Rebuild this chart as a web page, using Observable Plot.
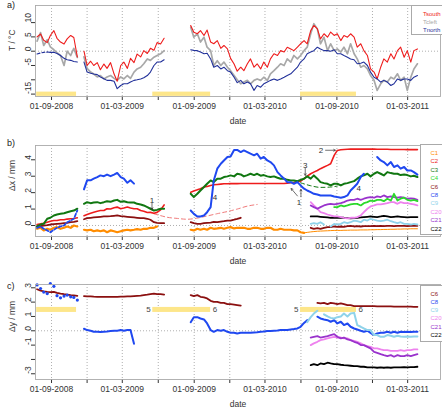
<!DOCTYPE html>
<html><head><meta charset="utf-8">
<script src="https://cdn.jsdelivr.net/npm/d3@7"></script>
<script src="https://cdn.jsdelivr.net/npm/@observablehq/plot@0.6"></script>
<style>
body{margin:0;background:#fff}
#wrap{position:relative;width:442px;height:407px;overflow:hidden;background:#fff;font-family:"Liberation Sans",Arial,sans-serif}
.pane{position:absolute;left:0}
.pane svg{display:block;overflow:visible}
.plab{position:absolute;left:7px;font-size:9px;color:#222;line-height:10px}
.leg{position:absolute;background:#fff;border:1px solid #aaa;font-size:6px;box-sizing:border-box;white-space:nowrap;width:40px}
</style></head><body>
<div id="wrap">
 <div class="pane" id="pa" style="top:0"></div>
 <div class="pane" id="pb" style="top:128px"></div>
 <div class="pane" id="pc" style="top:268px"></div>
 <div class="plab" style="top:0px">a)</div>
 <div class="plab" style="top:138px">b)</div>
 <div class="plab" style="top:281px">c)</div>
 <div class="leg" id="la" style="left:411px;top:5px;height:30px;padding:3.5px 0 0 11px;line-height:8px"></div>
 <div class="leg" id="lb" style="left:420px;top:144px;height:91px;padding:4px 0 0 9.5px;line-height:8.4px"></div>
 <div class="leg" id="lc" style="left:420px;top:285px;height:57px;padding:3.5px 0 0 9.5px;line-height:8.25px"></div>
</div>
<script>
const N = null;
// sample dates (shared by all series)
const dates = [
"2008-07-26","2008-08-04","2008-08-12","2008-08-21","2008-08-29","2008-09-07","2008-09-15","2008-09-24","2008-10-03","2008-10-11",
"2008-10-20","2008-10-28","2008-11-06","2008-11-14","2008-11-23","2008-12-01","2008-12-10","2008-12-18","2008-12-27","2009-01-04",
"2009-01-13","2009-01-21","2009-01-30","2009-02-08","2009-02-16","2009-02-25","2009-03-05","2009-03-14","2009-03-22","2009-03-31",
"2009-04-08","2009-04-17","2009-04-25","2009-05-04","2009-05-12","2009-05-21","2009-05-29","2009-06-07","2009-06-16","2009-06-24",
"2009-07-03","2009-07-11","2009-07-20","2009-07-28","2009-08-06","2009-08-14","2009-08-23","2009-08-31","2009-09-09","2009-09-17",
"2009-09-26","2009-10-04","2009-10-13","2009-10-21","2009-10-30","2009-11-08","2009-11-16","2009-11-25","2009-12-03","2009-12-12",
"2009-12-20","2009-12-29","2010-01-06","2010-01-15","2010-01-23","2010-02-01","2010-02-09","2010-02-18","2010-02-26","2010-03-07",
"2010-03-15","2010-03-24","2010-04-02","2010-04-10","2010-04-19","2010-04-27","2010-05-06","2010-05-14","2010-05-23","2010-05-31",
"2010-06-09","2010-06-17","2010-06-26","2010-07-04","2010-07-13","2010-07-21","2010-07-30","2010-08-08","2010-08-16","2010-08-25",
"2010-09-02","2010-09-11","2010-09-19","2010-09-28","2010-10-06","2010-10-15","2010-10-23","2010-11-01","2010-11-09","2010-11-18",
"2010-11-26","2010-12-05","2010-12-13","2010-12-22","2010-12-30","2011-01-08","2011-01-17","2011-01-25","2011-02-03","2011-02-11",
"2011-02-20","2011-02-28","2011-03-09","2011-03-17","2011-03-26"];
const gridDates = ["2008-09-01","2008-12-01","2009-03-01","2009-06-01","2009-09-01","2009-12-01","2010-03-01","2010-06-01","2010-09-01","2010-12-01","2011-03-01"];
const xDomain = ["2008-07-22","2011-05-24"];

// ---- panel a: temperatures (°C)
const tSouth = [
5.0,6.0,3.8,3.0,5.5,7.2,4.5,3.2,2.5,4.3,
5.5,4.8,-2.0,N,0.0,-5.0,-3.5,-5.0,-4.0,-6.5,
-4.5,-6.0,-4.0,-8.0,-10.5,-5.0,-3.8,-6.0,-2.5,-4.0,
-1.0,-2.0,0.2,-0.8,1.0,0.3,3.0,2.5,4.5,N,
N,N,N,N,N,N,9.0,6.6,6.1,7.2,
5.5,7.4,3.2,2.6,3.7,1.0,2.0,0.8,-2.5,-4.5,
-7.0,-5.6,-6.8,-4.4,-2.7,-5.6,-4.4,-6.2,-3.8,-5.6,
-2.7,-0.9,-1.5,0.2,-0.3,1.4,0.8,0.2,1.4,2.6,
3.7,2.6,7.2,9.0,7.8,4.3,6.1,4.9,6.7,5.5,
6.1,3.7,5.5,4.9,6.1,4.9,1.4,2.6,0.2,-1.5,
-6.2,-7.3,-9.7,-5.6,-2.7,-3.8,-0.9,-2.7,0.2,1.4,
-2.1,0.2,-3.8,0.2,0.8];
const tCleft = [
3.5,6.5,2.0,4.0,1.5,0.5,-0.5,-1.5,-5.0,0.0,
-1.5,1.0,-2.2,N,-2.0,-6.0,-7.3,-8.0,-9.0,-8.5,
-9.7,-9.0,-8.5,-9.5,-10.2,-9.0,-9.7,-8.5,-9.5,-7.3,
-6.2,-5.6,-4.4,-2.7,-3.2,-2.1,-1.5,-0.9,0.2,N,
N,N,N,N,N,N,8.4,4.9,6.1,3.2,
4.9,1.4,0.2,-5.0,-3.3,-5.0,-3.8,-5.6,-6.8,-8.5,
-10.0,-11.4,-10.8,-10.2,-11.4,-10.2,-9.7,-10.2,-9.1,-10.2,
-7.9,-6.8,-5.6,-4.4,-5.0,-2.7,-3.8,-1.5,-2.7,-1.5,
0.2,1.4,6.1,9.6,7.8,2.6,4.9,0.2,2.6,0.2,
0.8,-0.3,1.4,-0.9,2.6,-0.9,-2.7,-5.6,-5.0,-6.2,
-8.5,-10.2,-13.7,-11.4,-10.2,-10.8,-9.1,-9.7,-7.9,-10.2,
-9.1,-13.7,-9.1,-6.2,-4.4];
const tNorth = [
N,N,N,-0.3,-0.4,-0.4,-0.8,-1.5,-2.5,-3.0,
-3.2,-3.6,-3.8,N,-3.8,-7.3,-7.7,-8.0,-8.2,-9.0,
-9.6,-10.2,-10.2,-10.5,-13.1,-12.0,-11.4,-11.4,-10.8,-10.2,
-10.0,-9.7,-9.3,-8.5,-7.3,-5.0,-3.8,-3.8,-3.0,N,
N,N,N,N,N,N,0.5,0.3,0.2,-0.3,
-0.9,-0.7,-2.7,-5.6,-5.0,-6.2,-5.6,-6.8,-7.3,-9.1,
-11.0,-10.2,-11.4,-10.8,-11.4,-13.7,-12.0,-12.6,-11.4,-10.8,
-10.2,-9.7,-10.2,-9.7,-9.1,-8.5,-7.9,-6.8,-5.6,-3.8,
-2.7,-0.9,-0.3,0.2,1.4,0.8,0.2,0.2,0.0,0.5,
-0.9,-0.9,-1.5,-2.1,-2.7,-3.0,-4.4,-4.2,-3.8,-5.0,
-7.3,-9.1,-9.7,-10.8,-10.2,-10.8,-12.0,-11.4,-9.7,-10.2,
-9.7,-9.7,-10.2,-9.1,-8.5];
const tNorthEarly = [-1.0,-0.6,-0.4,-0.3];
const barStart = ["2008-07-25","2009-05-18","2010-05-31"];
const barEnd = ["2008-11-04","2009-10-13","2010-10-21"];
const barYa = [-14.3, -15.8];
const barYc = [1.28, 1.63];

// ---- panel b: dx (mm)
const c1 = [
-0.2,-0.14,-0.3,-0.2,-0.26,-0.14,-0.1,-0.2,-0.14,-0.06,
-0.14,0.0,-0.06,N,-0.26,-0.3,-0.26,-0.35,-0.3,-0.35,
-0.3,-0.41,-0.3,-0.35,-0.41,-0.35,-0.3,-0.26,-0.3,-0.26,
-0.22,-0.26,-0.2,-0.2,-0.14,-0.14,-0.06,N,N,N,
N,N,N,N,N,N,-0.26,-0.3,-0.2,-0.26,
-0.2,-0.26,-0.14,-0.2,-0.18,-0.14,-0.2,-0.14,-0.1,-0.18,
-0.14,-0.14,-0.14,-0.2,-0.2,-0.14,-0.14,-0.2,-0.2,-0.14,
-0.14,-0.26,-0.26,-0.2,-0.26,-0.26,-0.26,-0.3,-0.3,-0.41,
-0.45];
const c1Late = [ // from sample 80
-0.45,-0.42,-0.39,-0.37,-0.35,-0.34,-0.33,-0.32,-0.31,-0.3,
-0.3,-0.3,-0.29,-0.29,-0.28,-0.28,-0.28,-0.27,-0.27,-0.27,
-0.26,-0.26,-0.25,-0.25,-0.24,-0.24,-0.23,-0.23,-0.22,-0.22,
-0.21,-0.21,-0.2,-0.2,-0.2];
const c2 = [
0.06,0.1,0.14,0.2,0.26,0.3,0.3,0.35,0.35,0.39,
0.41,0.43,0.47,N,0.6,0.67,0.75,0.81,0.87,0.91,
0.91,1.02,1.0,1.08,1.12,1.02,1.06,1.12,1.06,1.02,
1.02,0.91,0.87,0.79,0.8,0.75,0.8,0.95,1.25,N,
N,N,N,N,N,N,2.03,2.1,2.17,2.24,
2.34,2.38,2.44,2.48,2.5,2.52,2.54,2.54,2.55,2.55,
2.55,2.56,2.56,2.56,2.56,2.56,2.56,2.56,2.56,2.56,
2.56,2.56,2.56,2.56,2.56,2.58,2.6,2.62,2.66,2.7,
2.85,3.0,3.15,3.25,3.35,3.46,3.56,3.66,3.76,4.27,
4.57,4.61,4.63,4.64,4.65,4.65,4.65,4.65,4.65,4.65,
4.65,4.65,4.64,4.64,4.64,4.64,4.63,4.63,4.63,4.63,
4.63,4.62,4.62,4.62,4.62];
const c2GapDates = ["2009-05-21","2009-06-07","2009-06-24","2009-07-20","2009-08-14","2009-09-09","2009-10-04","2009-10-30","2009-11-25","2009-12-20","2010-01-15","2010-02-09"];
const c2Gap = [0.71,0.6,0.5,0.43,0.38,0.45,0.58,0.72,0.85,1.0,1.18,1.28];
const c3 = [
-0.06,0.06,0.1,0.41,0.47,0.61,0.67,0.71,0.75,0.81,
0.87,0.91,1.02,N,1.32,1.42,1.36,1.4,1.42,1.36,
1.42,1.48,1.44,1.52,1.56,1.44,1.48,1.42,1.4,1.4,
1.32,1.28,1.22,1.12,1.02,0.91,0.95,1.02,1.02,N,
N,N,N,N,N,N,1.93,1.73,1.93,2.13,
2.34,2.54,2.74,2.64,2.85,2.85,2.95,2.99,3.05,2.99,
3.15,3.11,2.99,3.07,3.15,3.07,3.15,3.03,3.07,2.99,
2.95,2.99,2.91,2.85,2.85,2.78,2.74,2.74,2.7,2.78,
2.85,2.99,2.85,3.05,2.85,2.64,2.58,2.54,2.44,2.54,
2.54,2.44,2.54,2.58,2.64,2.7,2.85,2.99,3.05,3.15,
2.99,3.15,3.25,3.15,3.05,3.25,3.19,3.15,3.15,3.07,
3.11,3.07,2.99,3.03,2.95];
const c3GapDates = ["2010-05-31","2010-06-26","2010-07-21","2010-08-16","2010-09-02"];
const c3Gap = [2.6,2.42,2.32,2.34,2.4];
const c4 = [ // from sample 89
1.12,1.12,1.22,1.16,1.22,1.28,1.32,1.32,1.22,1.36,1.42,1.52,1.48,1.56,1.56,1.48,1.63,1.52,1.93,1.52,1.63,1.69,1.56,1.52,1.56,1.48];
const c6 = [
-0.06,-0.04,0,0.02,0.06,0.08,0.1,0.12,0.14,0.16,
0.2,0.22,0.26,N,0.38,0.45,0.47,0.49,0.51,0.53,
0.55,0.56,0.57,0.59,0.61,0.57,0.55,0.53,0.51,0.49,
0.47,0.45,0.45,0.41,0.35,0.2,0.16,0.14,0.14,N,
N,N,N,N,N,N,0.2,0.14,0.1,0.1,
0.14,0.16,0.18,0.22,0.2,0.24,0.26,0.3,0.3,0.35,
0.4,0.47,N,N,N,N,N,N,N,N,
N,N,N,N,N,N,N,N,N,N,
N,N,-0.14,-0.2,-0.16,-0.2,-0.14,-0.1,-0.1,-0.06,
-0.08,-0.06,-0.08,-0.04,-0.02,-0.06,-0.04,-0.06,-0.04,-0.04,
-0.04,-0.02,-0.04,-0.02,-0.04,-0.02,-0.02,-0.04,-0.02,-0.02,
-0.02,-0.04,-0.02,-0.02,-0.02];
const c8Early = [-0.14,-0.06,-0.2,-0.3,-0.41,-0.26,-0.14,-0.06,0,0.2,0.3,0.41,0.91];
const c8 = [ // from sample 14
2.2,2.75,2.75,2.85,2.95,3.05,
3.0,3.1,3.0,3.1,3.2,2.95,2.85,2.6,2.75,2.55,
N,N,N,N,N,N,N,N,N,N,
N,N,N,N,N,N,0.91,0.71,0.55,0.55,
0.61,0.81,1.12,2.74,3.46,3.76,3.96,4.17,4.2,4.6,
4.6,4.47,4.57,4.47,4.37,4.27,4.37,4.07,4.17,3.96,
3.86,3.66,3.25,3.05,2.85,2.64,2.64,2.54,2.64,2.44,
2.24,2.13,2.03,1.93,1.89,1.83,1.83,1.83,1.83,1.77,
1.73,1.69,1.73,1.83,2.13,2.34,2.54,2.95,3.15,N,
N,N,4.17,3.96,3.86,3.66,3.86,3.56,3.66,3.46,
3.56,3.35,3.35,3.25,3.1];
const c9 = [ // from sample 82
0.1,0.14,0.1,0.2,0.06,N,-0.06,0.1,0.06,0.1,0.2,0.14,0.2,0.3,0.26,0.2,0.35,0.3,0.41,0.35,0.3,0.26,0.3,0.35,0.26,0.2,0.14,0.2,0.1,0.1,0.06,0.1,0.06];
const c20 = [ // from sample 82
1.42,1.22,1.02,0.81,0.75,0.67,0.61,0.55,0.55,0.51,0.47,0.43,0.47,0.47,0.51,0.61,0.81,1.02,1.16,1.22,1.28,1.28,1.32,1.36,1.42,1.42,1.32,1.42,1.36,1.36,1.32,1.28,1.22];
const c21 = [ // from sample 82
1.22,1.12,1.02,1.12,1.22,1.28,1.32,1.28,1.32,1.36,1.42,1.52,1.56,1.56,1.63,1.56,1.63,1.69,1.73,1.69,1.77,1.73,1.83,1.73,1.77,1.73,1.69,1.73,1.69,1.63,1.65,1.63,1.56];
const c22 = [ // from sample 82
0.55,0.55,0.55,0.53,0.51,0.49,0.47,0.47,0.47,0.47,0.47,0.45,0.43,0.45,0.47,0.49,0.51,0.53,0.55,0.53,0.51,0.55,0.59,0.55,0.51,0.53,0.55,0.53,0.51,0.49,0.51,0.51,0.51];
const annText = ["1","4","2","3","1","4"];
const annDate = ["2009-05-16","2009-10-24","2010-07-22","2010-06-12","2010-05-27","2010-10-27"];
const annVal = [1.5,1.7,4.57,3.66,1.42,2.24];
const arrFromDate = ["2009-05-16","2010-08-03","2010-06-12","2010-05-23","2010-06-01"];
const arrFromVal = [1.35,4.58,3.5,1.8,1.75];
const arrToDate = ["2009-05-16","2010-08-28","2010-06-12","2010-05-07","2010-06-01"];
const arrToVal = [0.98,4.58,3.05,2.25,2.2];

// ---- panel c: dy (mm)
const d6 = [
2.9,2.8,2.75,2.72,2.7,2.72,2.65,2.6,2.56,2.53,
2.49,2.47,2.44,N,2.42,2.4,2.4,2.38,2.37,2.37,
2.37,2.37,2.37,2.37,2.37,2.38,2.38,2.4,2.4,2.42,
2.44,2.46,2.49,2.52,2.56,2.6,2.56,2.56,2.53,N,
N,N,N,N,N,N,2.49,2.42,2.49,2.37,
2.33,2.26,2.09,2.02,2.02,1.95,1.95,1.86,1.86,1.83,
1.79,1.75,N,N,N,N,N,N,N,N,
N,N,N,N,N,N,N,N,N,N,
N,N,N,N,1.95,1.91,1.95,1.86,1.95,1.91,
1.86,1.91,1.86,1.79,1.79,1.72,1.72,1.72,1.72,1.72,
1.72,1.72,1.71,1.7,1.7,1.7,1.7,1.69,1.69,1.69,
1.68,1.68,1.68,1.67,1.67];
const d8Early = [3.2,2.95,2.7,2.6,3.3,3.1,2.45,2.3,2.42,2.49,2.37,2.33,2.14];
const d8 = [ // from sample 14
0.14,0.05,0.0,-0.07,-0.07,-0.09,
-0.07,-0.05,-0.02,0.0,0.0,0.05,0.0,0.05,0.05,-0.9,
N,N,N,N,N,N,N,N,N,N,
N,N,N,N,N,N,0.6,0.95,0.95,0.86,
0.79,0.51,0.05,-0.07,0.05,0.0,0.05,-0.07,-0.14,-0.14,
-0.19,-0.14,-0.14,-0.14,-0.14,-0.12,-0.1,-0.07,-0.05,-0.02,
-0.02,0.0,0.02,0.05,0.05,0.05,0.09,0.12,0.16,0.28,
0.55,0.74,N,N,0.98,0.86,0.79,0.74,0.63,0.74,
0.51,0.63,0.4,0.51,0.28,0.16,0.09,0.0,-0.07,0.0,
-0.14,-0.3,-0.19,-0.14,-0.14,-0.07,-0.14,-0.07,-0.14,-0.07,
-0.09,-0.07,-0.09,-0.07,-0.07];
const d9 = [ // from sample 81
0.6,0.95,1.2,1.4,N,1.15,1.0,0.9,0.86,0.95,1.0,1.2,1.0,1.2,1.25,
0.4,0.28,0.16,0.05,0.05,-0.3,-0.3,-0.42,-0.42,-0.3,-0.35,-0.42,-0.35,-0.4,-0.42,-0.4,-0.42,-0.4,-0.4];
const d20 = [ // from sample 82
-1.0,-0.88,-0.77,-0.65,-0.6,-0.53,-0.47,-0.42,-0.47,-0.47,-0.53,-0.53,-0.65,-0.7,-0.77,-0.88,-1.0,-1.07,-1.12,-1.23,-1.23,-1.3,-1.35,-1.35,-1.4,-1.4,-1.4,-1.35,-1.4,-1.35,-1.35,-1.3,-1.3];
const d21 = [ // from sample 82
-0.47,-0.42,-0.37,-0.47,-0.42,-0.37,-0.3,-0.23,-0.42,-0.53,-0.47,-0.6,-0.65,-0.77,-0.84,-1.0,-1.0,-1.12,-1.23,-1.47,-1.54,-1.63,-1.7,-1.77,-1.7,-1.81,-1.7,-1.77,-1.77,-1.7,-1.77,-1.7,-1.63];
const d22 = [ // from sample 82
-2.4,-2.33,-2.4,-2.28,-2.33,-2.23,-2.28,-2.33,-2.33,-2.37,-2.4,-2.42,-2.44,-2.47,-2.47,-2.51,-2.51,-2.56,-2.56,-2.56,-2.58,-2.56,-2.58,-2.56,-2.58,-2.56,-2.56,-2.56,-2.54,-2.56,-2.54,-2.54,-2.51];

// legends
const legA = ["Tsouth","Tcleft","Tnorth"];
const colA = ["#ee1c1c","#a8a8a8","#22319a"];
const legB = ["C1","C2","C3","C4","C6","C8","C9","C20","C21","C22"];
const colB = ["#ff8c00","#ee1c1c","#117711","#2bd92b","#8b1010","#1f48f0","#8fd3ea","#ee82ee","#9932cc","#000000"];
const legC = ["C6","C8","C9","C20","C21","C22"];
const colC = ["#8b1010","#1f48f0","#8fd3ea","#ee82ee","#9932cc","#000000"];
const col = Object.fromEntries(legB.map((k, i) => [k, colB[i]]));

// ---------- drawing
const at = (start, vals) => vals.map((v, i) => ({date: new Date(dates[start + i]), v}));
const pts = (ds, vals) => vals.map((v, i) => ({date: new Date(ds[i]), v}));
const fmt = d3.utcFormat("%d-%m-%Y");
const grid = gridDates.map(d => new Date(d));
const FONT = '"Liberation Sans", Arial, sans-serif';
const L = (data, stroke, w, extra = {}) => Plot.line(data, {x: "date", y: "v", stroke, strokeWidth: w, ...extra});

function panel(o) {
  return Plot.plot({
    width: 442, height: o.height, marginLeft: 35, marginRight: 2, marginTop: o.mt, marginBottom: o.mb,
    style: {fontFamily: FONT, fontSize: "8.5px", color: "#333", background: "transparent"},
    x: {type: "utc", domain: xDomain.map(d => new Date(d)), ticks: grid,
        tickFormat: d => ([8, 2].includes(d.getUTCMonth()) ? fmt(d) : ""), tickSize: 4, tickPadding: 2, label: null},
    y: {domain: o.yDomain, ticks: o.yTicks, tickFormat: () => "", tickSize: 4, label: null},
    marks: [
      Plot.ruleX(grid, {stroke: "#9a9a9a", strokeDasharray: "1,2", strokeWidth: 0.8}),
      Plot.ruleY([0], {stroke: "#9a9a9a", strokeDasharray: "1,2", strokeWidth: 0.8}),
      ...o.marks,
      Plot.frame({stroke: "#aaa", strokeWidth: 0.9}),
      Plot.text(o.yLabels, {y: d => d, text: d => String(d), frameAnchor: "left", dx: -7.5, rotate: -90, fontSize: 8.5, fill: "#333"}),
      Plot.text([o.ylabel], {text: d => d, frameAnchor: "left", dx: -23, rotate: -90, fontSize: 8.5, fill: "#333"}),
      Plot.text(["date"], {text: d => d, frameAnchor: "bottom", dy: 27, fontSize: 8.5, fill: "#333"})
    ]
  });
}

const bars = (ys) => Plot.rect(barStart, {x1: d => new Date(d), x2: (d, i) => new Date(barEnd[i]), y1: ys[0], y2: ys[1], fill: "#fde68a"});

document.getElementById("pa").append(panel({
  height: 128, mt: 5, mb: 32, yDomain: [-15.84, 15.98], yTicks: [-15, -10, -5, 0, 5, 10], yLabels: [-15, -5, 0, 5, 10], ylabel: "T / °C",
  marks: [
    bars(barYa),
    L(at(0, tCleft), colA[1], 1.7),
    L(at(0, tSouth), colA[0], 1.1),
    L(at(0, tNorth), colA[2], 1.1),
    L(at(0, tNorthEarly), colA[2], 1.1, {strokeDasharray: "3,2"})
  ]
}));

document.getElementById("pb").append(panel({
  height: 140, mt: 17, mb: 32, yDomain: [-0.67, 4.87], yTicks: [0, 1, 2, 3, 4], yLabels: [0, 1, 2, 3, 4], ylabel: "Δx / mm",
  marks: [
    L(at(0, c1), col.C1, 2.2),
    L(at(80, c1Late), col.C1, 1),
    L(at(0, c6), col.C6, 1.8),
    L(at(82, c22), col.C22, 1.8),
    L(at(82, c9), col.C9, 1.8),
    L(at(82, c20), col.C20, 1.8),
    L(at(82, c21), col.C21, 1.8),
    L(at(89, c4), col.C4, 1.8),
    L(pts(c2GapDates, c2Gap), "#f07a7a", 1, {strokeDasharray: "4,3", curve: "monotone-x"}),
    L(pts(c3GapDates, c3Gap), col.C3, 1, {strokeDasharray: "4,3", curve: "monotone-x"}),
    L(at(0, c2), col.C2, 1.6),
    L(at(0, c3), col.C3, 2),
    L(at(0, c8Early), col.C8, 1.8, {strokeDasharray: "3,2"}),
    L(at(14, c8), col.C8, 2),
    Plot.arrow(arrFromDate, {x1: d => new Date(d), y1: (d, i) => arrFromVal[i], x2: (d, i) => new Date(arrToDate[i]), y2: (d, i) => arrToVal[i], stroke: "#333", strokeWidth: 0.7, headLength: 4}),
    Plot.text(annText, {x: (d, i) => new Date(annDate[i]), y: (d, i) => annVal[i], text: d => d, fontSize: 8, fill: "#333"})
  ]
}));

const midC = (barYc[0] + barYc[1]) / 2;
document.getElementById("pc").append(panel({
  height: 139, mt: 16, mb: 28, yDomain: [-3.4, 3.23], yTicks: [-3, -2, -1, 0, 1, 2, 3], yLabels: [-3, -1, 0, 1, 2, 3], ylabel: "Δy / mm",
  marks: [
    bars(barYc),
    Plot.text(barStart.slice(1), {x: d => new Date(d), y: midC, text: () => "5", textAnchor: "end", dx: -2, fontSize: 8, fill: "#444"}),
    Plot.text(barEnd.slice(1), {x: d => new Date(d), y: midC, text: () => "6", textAnchor: "start", dx: 2, fontSize: 8, fill: "#444"}),
    L(at(0, d6), colC[0], 1.8),
    Plot.dot(at(0, d8Early), {x: "date", y: "v", fill: colC[1], r: 1.6}),
    L(at(14, d8), colC[1], 2),
    L(at(81, d9), colC[2], 2),
    L(at(82, d20), colC[3], 1.8),
    L(at(82, d21), colC[4], 1.8),
    L(at(82, d22), colC[5], 1.8)
  ]
}));

function legend(id, names, colors) {
  const el = document.getElementById(id);
  names.forEach((n, i) => {
    const s = document.createElement("div");
    s.textContent = n; s.style.color = colors[i];
    el.append(s);
  });
}
legend("la", legA, colA);
legend("lb", legB, colB);
legend("lc", legC, colC);
</script>
</body></html>
